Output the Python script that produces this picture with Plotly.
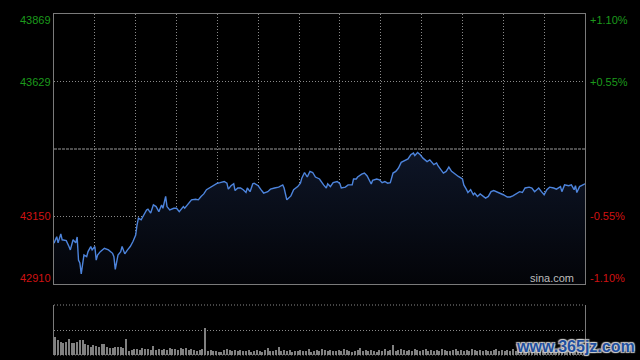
import plotly.graph_objects as go

# ---- data ----
minutes = [
    0, 2, 3, 5, 6, 9, 11, 12, 14, 16,
    17, 18, 19, 20, 22, 24, 25, 27, 28, 30,
    31, 32, 34, 37, 40, 43, 44, 45, 47, 49,
    50, 52, 54, 56, 58, 60, 61, 62, 64, 66,
    68, 69, 71, 73, 75, 77, 79, 80, 82, 83,
    85, 88, 90, 92, 95, 96, 99, 101, 104, 106,
    108, 110, 112, 115, 117, 120, 122, 125, 127, 128,
    130, 132, 133, 135, 137, 139, 141, 142, 144, 146,
    147, 150, 152, 154, 157, 159, 162, 165, 168, 169,
    171, 174, 176, 179, 181, 182, 184, 186, 188, 190,
    192, 195, 198, 200, 201, 203, 205, 208, 210, 211,
    214, 216, 219, 220, 222, 223, 226, 228, 230, 232,
    233, 234, 237, 239, 241, 243, 245, 247, 249, 251,
    253, 255, 258, 260, 262, 264, 265, 267, 269, 271,
    274, 276, 279, 281, 282, 284, 286, 288, 290, 292,
    295, 297, 300, 301, 303, 304, 306, 308, 309, 311,
    313, 315, 317, 319, 321, 323, 325, 328, 330, 333,
    335, 337, 340, 342, 344, 346, 349, 351, 353, 356,
    358, 360, 362, 364, 367, 369, 372, 373, 375, 378,
    380, 382, 383, 384, 386, 388, 390,
]
prices = [
    43055, 43078, 43056, 43088, 43067, 43064, 43043, 43031, 43067, 43056,
    43077, 42995, 42985, 42946, 43013, 43007, 43025, 43043, 43031, 43043,
    42995, 43013, 43025, 43037, 43031, 43019, 43007, 42962, 43013, 43025,
    43043, 43017, 43031, 43043, 43061, 43084, 43120, 43144, 43138, 43156,
    43173, 43176, 43162, 43191, 43185, 43167, 43191, 43179, 43221, 43185,
    43173, 43179, 43179, 43167, 43185, 43179, 43197, 43209, 43211, 43209,
    43221, 43230, 43245, 43254, 43262, 43268, 43270, 43274, 43268, 43247,
    43259, 43266, 43242, 43251, 43251, 43245, 43235, 43251, 43238, 43266,
    43268, 43259, 43245, 43233, 43238, 43247, 43251, 43254, 43262, 43251,
    43209, 43223, 43245, 43256, 43268, 43286, 43306, 43290, 43310, 43306,
    43290, 43283, 43262, 43251, 43266, 43256, 43270, 43274, 43266, 43251,
    43254, 43262, 43262, 43283, 43283, 43290, 43300, 43304, 43294, 43274,
    43265, 43278, 43283, 43280, 43270, 43274, 43268, 43270, 43304, 43310,
    43322, 43342, 43349, 43354, 43369, 43375, 43366, 43377, 43369, 43357,
    43345, 43351, 43334, 43340, 43330, 43316, 43304, 43310, 43325, 43310,
    43298, 43292, 43283, 43262, 43245, 43235, 43245, 43227, 43233, 43221,
    43230, 43221, 43215, 43221, 43238, 43242, 43238, 43233, 43227, 43219,
    43219, 43223, 43233, 43238, 43235, 43251, 43254, 43251, 43238, 43251,
    43238, 43227, 43245, 43254, 43251, 43247, 43256, 43238, 43262, 43259,
    43262, 43245, 43259, 43235, 43256, 43262, 43266,
]
vol_minutes = list(range(1, 390, 2))
volumes = [
    18, 15, 13, 12, 13, 16, 12, 12, 13, 15,
    15, 11, 10, 8, 10, 9, 8, 11, 11, 8,
    7, 7, 8, 8, 8, 7, 16,
    4, 5, 6, 6, 5, 7, 6, 6, 5, 9, 5, 6, 5,
    6, 5, 7, 6, 6, 5, 7, 6, 7, 5,
    6, 5, 4, 5, 6, 27, 4, 5, 4, 4,
    3, 3, 5, 6, 5, 4, 5, 4, 5, 4,
    4, 5, 3, 4, 5, 4, 3, 5, 7, 4,
    4, 5, 8, 4, 5, 4, 5, 3, 4, 4,
    5, 4, 4, 6, 3, 4, 5, 4, 6, 5,
    4, 5, 4, 4, 5, 4, 6, 5, 4, 3,
    4, 5, 7, 4, 5, 4, 5, 4, 3, 5,
    4, 6, 4, 5, 10, 4, 5, 6, 5, 4,
    5, 4, 6, 5, 4, 5, 6, 4, 5, 4,
    5, 4, 6, 5, 4, 4, 5, 6, 4, 5,
    4, 5, 4, 6, 5, 4, 5, 4, 5, 4,
    4, 5, 6, 4, 5, 4, 5, 4, 6, 4,
    5, 4, 5, 6, 4, 5, 4, 5, 6, 4,
    5, 6, 4, 5, 4, 6, 5, 7, 5, 4,
    6, 5, 6, 7, 8,
]
prev_close = 43389.5
price_min, price_max = 42910, 43869
grid_prices = [43629, 43150]
left_values = [43869, 43629, 43150, 42910]
left_labels = ["43869", "43629", "43150", "42910"]
right_labels = ["+1.10%", "+0.55%", "-0.55%", "-1.10%"]
label_colors = ["#1c9a1c", "#1c9a1c", "#d01212", "#d01212"]
label_shifts = [-6, 0, 0, 6]

GRID = "#8a8a8a"
FRAME = "#7a7a7a"
DOTS = "1px,2px"
FONT = "Liberation Sans, Arial, sans-serif"

fig = go.Figure()
fig.add_trace(go.Scatter(
    x=minutes, y=prices, mode="lines",
    line=dict(color="#4d84dc", width=1.4),
    fill="tozeroy",
    fillgradient=dict(type="vertical",
                      colorscale=[[0, "rgb(3,4,8)"], [1, "rgb(14,22,40)"]],
                      start=price_min, stop=43400),
    hoverinfo="skip", xaxis="x", yaxis="y",
))
fig.add_trace(go.Bar(
    x=vol_minutes, y=volumes, width=0.8,
    marker=dict(color="#808080", line=dict(width=0)),
    hoverinfo="skip", xaxis="x2", yaxis="y2",
))

fig.add_shape(type="line", xref="x domain", x0=0, x1=1, yref="y",
              y0=prev_close, y1=prev_close,
              line=dict(color="#9a9a9a", width=1, dash="3px,1px"))
# dotted top and bottom edges of the volume panel
for edge in (0, 1):
    fig.add_shape(type="line", xref="x2 domain", x0=0, x1=1,
                  yref="y2 domain", y0=edge, y1=edge,
                  line=dict(color=GRID, width=1, dash=DOTS))

annotations = []
for v, lab, rlab, col, sh in zip(left_values, left_labels, right_labels, label_colors, label_shifts):
    annotations.append(dict(x=0, xref="paper", xanchor="right", xshift=-1,
                            y=v, yref="y", yanchor="middle", yshift=sh,
                            text=lab, showarrow=False,
                            font=dict(family=FONT, size=11, color=col)))
    annotations.append(dict(x=1, xref="paper", xanchor="left", xshift=3,
                            y=v, yref="y", yanchor="middle", yshift=sh,
                            text=rlab, showarrow=False,
                            font=dict(family=FONT, size=11, color=col)))
annotations.append(dict(x=1, xref="paper", xanchor="right", xshift=-9,
                        y=price_min, yref="y", yanchor="middle", yshift=6,
                        text="sina.com", showarrow=False,
                        font=dict(family=FONT, size=11, color="#bdbdbd")))
annotations.append(dict(x=(575 - 54) / 531, xref="paper", xanchor="center",
                        y=(355 - 346) / 341, yref="paper", yanchor="middle",
                        text="<b>www.365jz.com</b>", showarrow=False,
                        font=dict(family=FONT, size=16, color="#1f4f9f",
                                  shadow="1px 1px 1px #cfcfcf, -1px -1px 1px #cfcfcf, 1px -1px 1px #cfcfcf, -1px 1px 1px #cfcfcf")))

fig.update_layout(
    width=640, height=360,
    margin=dict(l=54, r=55, t=14, b=5),
    paper_bgcolor="black", plot_bgcolor="black",
    showlegend=False, bargap=0,
    annotations=annotations,
    xaxis=dict(domain=[0, 1], range=[0, 390], tickvals=list(range(30, 390, 30)),
               showticklabels=False, ticks="", showgrid=True, gridcolor=GRID,
               griddash=DOTS, gridwidth=1, zeroline=False,
               showline=True, linecolor=FRAME, linewidth=1, mirror=True),
    yaxis=dict(domain=[(355 - 284) / 341, 1], range=[price_min, price_max],
               tickvals=grid_prices, showticklabels=False, ticks="",
               showgrid=True, gridcolor=GRID, griddash=DOTS, gridwidth=1,
               zeroline=False, showline=True, linecolor=FRAME, linewidth=1,
               mirror=True),
    xaxis2=dict(domain=[0, 1], anchor="y2", range=[0, 390], showgrid=False,
                showticklabels=False, ticks="", zeroline=False, showline=False),
    yaxis2=dict(domain=[0, (355 - 305) / 341], anchor="x2", range=[0, 50],
                tickvals=[25], showticklabels=False, ticks="",
                showgrid=True, gridcolor=GRID, griddash=DOTS, gridwidth=1,
                zeroline=False, showline=True, linecolor=FRAME, linewidth=1,
                mirror=True),
)

fig.write_html(
    "out.html",
    config={"displayModeBar": False},
    post_script="document.body.style.margin='0';document.body.style.background='black';",
)
